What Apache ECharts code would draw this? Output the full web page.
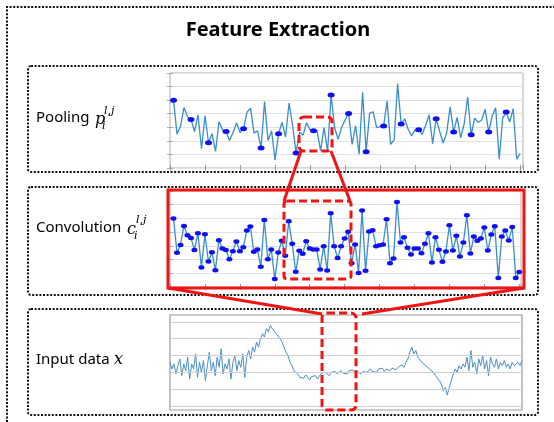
<!DOCTYPE html>
<html><head><meta charset="utf-8">
<script src="https://cdn.jsdelivr.net/npm/echarts@6/dist/echarts.min.js"></script>
<style>html,body{margin:0;padding:0;background:#fff}#c{width:554px;height:422px}</style>
</head><body><div id="c"></div>
<script>
// Convolution output c_i^{l,j} (100 samples)
const convValues = [
  5.0, 2.5, 3.07, 4.45, 3.78, 3.58, 2.69, 3.92, 1.43, 3.85,
  1.86, 2.54, 1.23, 3.41, 2.81, 2.69, 2.03, 2.61, 3.32, 2.61,
  2.9, 4.12, 4.41, 2.57, 2.74, 1.48, 4.89, 2.03, 2.74, 0.58,
  2.52, 3.37, 2.28, 4.79, 3.15, 1.11, 2.64, 2.42, 3.34, 2.81,
  2.74, 2.74, 1.28, 2.98, 1.21, 5.38, 2.98, 2.11, 2.98, 3.54,
  4.02, 1.74, 3.1, 1.02, 5.57, 1.19, 4.04, 4.14, 2.98, 3.05,
  3.1, 4.94, 1.74, 2.08, 6.2, 3.24, 3.63, 2.86, 2.37, 2.81,
  2.81, 2.47, 3.15, 3.92, 1.79, 3.63, 2.71, 1.84, 2.59, 4.5,
  2.66, 3.73, 2.23, 3.24, 5.23, 2.45, 3.68, 3.37, 3.54, 4.33,
  2.66, 3.83, 4.43, 0.65, 3.68, 4.12, 3.39, 4.38, 0.65, 1.09
];
// Pooling panel shows the same trace, with pooled samples marked every 5th point
const poolStep = 5;
// Input data x
const inputValues = [
  0.6, 0.2, 0.5, -0.1, 0.4, 0.8, -0.2, 0.5, 0.1, 0.9, -0.4, 0.5, 0.2, 1.1, -0.3, 0.6, 0.0, 0.7, -0.5, 0.4,
  1.2, 0.1, 0.6, -0.2, 0.9, 0.3, 1.4, -0.1, 0.5, 0.2, 0.8, -0.4, 0.6, 1.0, 0.1, 0.7, 0.3, 1.1, -0.3,
  0.9, 1.3, 0.8, 1.5, 1.2, 1.8, 1.5,
  2.0, 2.3, 2.1, 2.6, 2.4, 2.8, 2.6,
  2.7, 2.3, 2.4, 2.0, 1.8, 1.5,
  1.2, 1.0, 0.6, 0.4, 0.1, 0.0,
  -0.1, -0.3, -0.2, -0.35, -0.15, -0.3, -0.45, -0.25, -0.35, -0.2, -0.4,
  -0.2, -0.05, -0.15, 0.0, -0.1, -0.2, 0.0, -0.1, 0.05, -0.1, 0.0, 0.1, -0.05, 0.05, -0.1,
  0.1, 0.0, 0.15, -0.05, 0.1, 0.0, -0.1, 0.05, 0.15, 0.0, 0.1, 0.2, 0.05, 0.15, 0.0,
  0.2, 0.1, 0.25, 0.05, 0.2, 0.3, 0.1, 0.25, 0.35, 0.15, 0.3, 0.2, 0.45, 0.3, 0.6,
  0.8, 1.2, 1.5, 1.1, 1.3, 0.9, 0.8, 0.6,
  0.6, 0.4, 0.45, 0.2, 0.25, 0.0, -0.2, -0.15, -0.5, -0.7, -1.1, -0.9, -1.35,
  -0.9, -0.5, -0.1, 0.2, 0.0, 0.4, 0.2, 0.5, 0.3,
  0.9, 0.1, 1.3, 0.3, 0.6, -0.1, 0.8, 0.4, 1.0, 0.2, 0.7, -0.2, 0.9, 0.5, 0.3,
  0.8, 0.2, 0.6, 0.4, 0.7, 0.3, 0.5, 0.2, 0.6, 0.4, 0.3, 0.6, 0.4, 0.7
];
const inputGridValues = [-2, -1, 0, 1, 2, 3];

const title = 'Feature Extraction';
const labels = ['Pooling', 'Convolution', 'Input data'];

const LINE = '#3a8dcc', DOT = '#1010f0', RED = '#f01414';
const chart = echarts.init(document.getElementById('c'), null, {renderer: 'canvas'});

function xAx(gi, max, pos, ticks) {
  return {type: 'value', gridIndex: gi, min: 0, max: max, interval: 10, position: pos,
    axisLine: {show: false}, axisLabel: {show: false}, splitLine: {show: false},
    axisTick: {show: ticks, inside: true, length: 3, lineStyle: {color: '#999'}}};
}
function yAx(gi, pos, split) {
  return {type: 'value', gridIndex: gi, min: 0, max: 7, interval: 1, position: pos,
    axisLine: {show: false}, axisLabel: {show: false},
    splitLine: {show: split, lineStyle: {color: '#e2e2e2', width: 1}},
    axisTick: {show: true, inside: true, length: 3, lineStyle: {color: '#aaa'}}};
}

const convData = convValues.map((v, i) => [i + 1, v]);
const inputData = inputValues.map((v, i) => [i, v]);

const dotted = {fill: 'none', stroke: '#111', lineWidth: 2, lineDash: [2, 1.6]};
const redDash = {fill: 'none', stroke: RED, lineWidth: 3, lineDash: [8, 4]};
const redSolid = {fill: 'none', stroke: RED, lineWidth: 3};
const serif = 'italic 16px "DejaVu Serif"';
const serifS = 'italic 11px "DejaVu Serif"';
const sans = '15px "Noto Sans"';

chart.setOption({
  animation: false,
  grid: [
    {left: 170, top: 73, width: 353, height: 95, show: true, borderColor: '#b0b0b0', borderWidth: 1, backgroundColor: '#fff'},
    {left: 170, top: 191, width: 351, height: 96, show: true, borderColor: '#b0b0b0', borderWidth: 1, backgroundColor: '#fff'},
    {left: 170, top: 315, width: 352, height: 95, show: true, borderColor: '#999', borderWidth: 1.2, backgroundColor: '#fff'}
  ],
  xAxis: [
    xAx(0, 100.8, 'bottom', true), xAx(0, 100.8, 'top', true),
    xAx(1, 100.5, 'bottom', true), xAx(1, 100.5, 'top', true),
    {type: 'value', gridIndex: 2, min: 0, max: inputValues.length - 1, show: false}
  ],
  yAxis: [
    yAx(0, 'left', true), yAx(0, 'right', false),
    yAx(1, 'left', true), yAx(1, 'right', false),
    {type: 'value', gridIndex: 2, min: -2.24, max: 3.41, show: false}
  ],
  series: [
    {type: 'line', xAxisIndex: 0, yAxisIndex: 0, data: convData, showSymbol: true,
      symbol: 'circle', symbolSize: (v, p) => (p.dataIndex % poolStep === 0 ? [7, 5] : 0),
      itemStyle: {color: DOT}, lineStyle: {color: LINE, width: 1.3}, z: 3},
    {type: 'line', xAxisIndex: 2, yAxisIndex: 2, data: convData, showSymbol: true,
      symbol: 'circle', symbolSize: [6, 4.5],
      itemStyle: {color: DOT}, lineStyle: {color: LINE, width: 1.3}, z: 3},
    {type: 'line', xAxisIndex: 4, yAxisIndex: 4, data: inputData, showSymbol: false,
      lineStyle: {color: '#4a8fc8', width: 1}, z: 3,
      markLine: {silent: true, symbol: 'none', label: {show: false},
        lineStyle: {color: '#cfcfcf', type: 'solid', width: 1.2},
        data: inputGridValues.map(v => ({yAxis: v}))}}
  ],
  graphic: [
    {type: 'polyline', shape: {points: [[7, 422], [7, 7], [554, 7]]}, style: dotted, z: 50},
    {type: 'rect', shape: {x: 28, y: 66, width: 510, height: 106, r: 3}, style: dotted, z: 50},
    {type: 'rect', shape: {x: 28, y: 187, width: 510, height: 108, r: 3}, style: dotted, z: 50},
    {type: 'rect', shape: {x: 28, y: 309, width: 510, height: 106, r: 3}, style: dotted, z: 50},
    {type: 'text', x: 278, y: 30, style: {text: title, font: 'bold 20px "Noto Sans"', fill: '#000', align: 'center', verticalAlign: 'middle'}, z: 50},

    {type: 'text', x: 36, y: 118, style: {text: labels[0], font: sans, fill: '#000', verticalAlign: 'middle'}, z: 50},
    {type: 'text', x: 95, y: 120, style: {text: 'p', font: serif, fill: '#000', verticalAlign: 'middle'}, z: 50},
    {type: 'text', x: 104, y: 111, style: {text: 'l,j', font: serifS, fill: '#000', verticalAlign: 'middle'}, z: 50},
    {type: 'text', x: 102, y: 126, style: {text: 'i', font: serifS, fill: '#000', verticalAlign: 'middle'}, z: 50},

    {type: 'text', x: 36, y: 228, style: {text: labels[1], font: sans, fill: '#000', verticalAlign: 'middle'}, z: 50},
    {type: 'text', x: 127, y: 230, style: {text: 'c', font: serif, fill: '#000', verticalAlign: 'middle'}, z: 50},
    {type: 'text', x: 136, y: 220, style: {text: 'l,j', font: serifS, fill: '#000', verticalAlign: 'middle'}, z: 50},
    {type: 'text', x: 134, y: 236, style: {text: 'i', font: serifS, fill: '#000', verticalAlign: 'middle'}, z: 50},

    {type: 'text', x: 36, y: 360, style: {text: labels[2], font: sans, fill: '#000', verticalAlign: 'middle'}, z: 50},
    {type: 'text', x: 114, y: 360, style: {text: 'x', font: serif, fill: '#000', verticalAlign: 'middle'}, z: 50},

    {type: 'rect', shape: {x: 299, y: 117, width: 33, height: 34, r: 5}, style: redDash, z: 60},
    {type: 'line', shape: {x1: 301, y1: 151, x2: 284, y2: 201}, style: redSolid, z: 60},
    {type: 'line', shape: {x1: 331, y1: 151, x2: 350, y2: 201}, style: redSolid, z: 60},
    {type: 'rect', shape: {x: 284, y: 201, width: 67, height: 78, r: 3}, style: redDash, z: 60},
    {type: 'rect', shape: {x: 168, y: 190, width: 356, height: 98}, style: redSolid, z: 60},
    {type: 'line', shape: {x1: 168, y1: 288, x2: 322, y2: 314}, style: redSolid, z: 60},
    {type: 'line', shape: {x1: 524, y1: 288, x2: 362, y2: 314}, style: redSolid, z: 60},
    {type: 'rect', shape: {x: 322, y: 313, width: 34, height: 97, r: 5}, style: redDash, z: 60}
  ]
});
</script>
</body></html>
